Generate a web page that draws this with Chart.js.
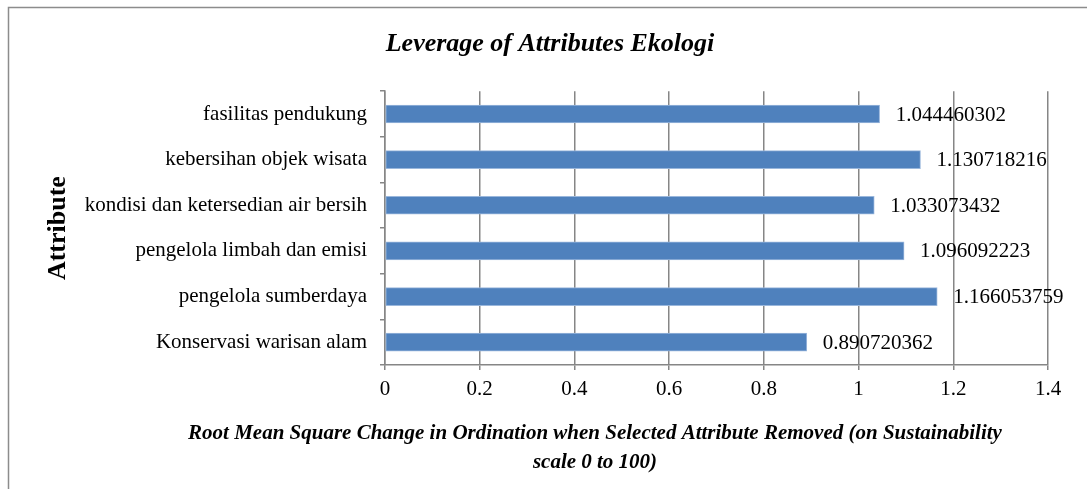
<!DOCTYPE html>
<html>
<head>
<meta charset="utf-8">
<script src="https://cdn.jsdelivr.net/npm/chart.js@4/dist/chart.umd.min.js"></script>
<style>
  html, body { margin: 0; padding: 0; background: #ffffff; }
  #wrap { position: relative; width: 1087px; height: 489px; overflow: hidden; }
</style>
</head>
<body>
<div id="wrap"><canvas id="c" width="1087" height="489"></canvas></div>
<script>
const categories = [
  "fasilitas pendukung",
  "kebersihan objek wisata",
  "kondisi dan ketersedian air bersih",
  "pengelola limbah dan emisi",
  "pengelola sumberdaya",
  "Konservasi warisan alam"
];
const values = [1.044460302, 1.130718216, 1.033073432, 1.096092223, 1.166053759, 0.890720362];
const valueLabels = ["1.044460302", "1.130718216", "1.033073432", "1.096092223", "1.166053759", "0.890720362"];
const xTicks = [0, 0.2, 0.4, 0.6, 0.8, 1, 1.2, 1.4];
const chartTitle = "Leverage of Attributes Ekologi";
const yTitle = "Attribute";
const xTitleLines = [
  "Root Mean Square Change in Ordination when Selected Attribute Removed (on Sustainability",
  "scale 0 to 100)"
];

const SERIF = "'Liberation Serif', 'Times New Roman', serif";
const GRID = '#868686';

const frame = {
  id: 'frame',
  beforeDraw(chart) {
    const ctx = chart.ctx;
    ctx.save();
    ctx.fillStyle = '#ffffff';
    ctx.fillRect(0, 0, chart.width, chart.height);
    ctx.strokeStyle = '#8c8c8c';
    ctx.lineWidth = 1.5;
    ctx.strokeRect(8.5, 7.5, 1400, 800);
    ctx.restore();
  }
};

const valueLabelPlugin = {
  id: 'valueLabels',
  afterDatasetsDraw(chart) {
    const ctx = chart.ctx;
    const meta = chart.getDatasetMeta(0);
    ctx.save();
    ctx.font = "21px " + SERIF;
    ctx.fillStyle = '#000000';
    ctx.textAlign = 'left';
    ctx.textBaseline = 'middle';
    meta.data.forEach((bar, i) => {
      ctx.fillText(valueLabels[i], bar.x + 16, bar.y + 1);
    });
    ctx.restore();
  }
};

const xTitlePlugin = {
  id: 'xTitle',
  afterDraw(chart) {
    const ctx = chart.ctx;
    const a = chart.chartArea;
    ctx.save();
    ctx.font = "italic bold 21px " + SERIF;
    ctx.fillStyle = '#000000';
    ctx.textAlign = 'center';
    ctx.textBaseline = 'alphabetic';
    const cx = a.left + 210;
    ctx.fillText(xTitleLines[0], cx, a.bottom + 74);
    ctx.fillText(xTitleLines[1], cx, a.bottom + 103);
    ctx.restore();
  }
};

new Chart(document.getElementById('c'), {
  type: 'bar',
  data: {
    labels: categories,
    datasets: [{
      data: values,
      backgroundColor: '#4f81bd',
      borderColor: '#9ab7dc',
      borderWidth: 1,
      borderSkipped: false,
      barThickness: 18
    }]
  },
  options: {
    indexAxis: 'y',
    responsive: false,
    animation: false,
    layout: { padding: { left: 52, right: 39, top: 0, bottom: 0 } },
    plugins: {
      legend: { display: false },
      tooltip: { enabled: false },
      title: {
        display: true,
        text: chartTitle,
        color: '#000000',
        font: { family: SERIF, size: 26, weight: 'bold', style: 'italic', lineHeight: 1.2 },
        padding: { top: 29, bottom: 31 }
      }
    },
    scales: {
      x: {
        type: 'linear',
        min: 0,
        max: 1.4,
        afterBuildTicks(scale) { scale.ticks = xTicks.map(v => ({ value: v })); },
        afterFit(scale) { scale.height = 124; },
        grid: { display: true, color: GRID, lineWidth: 1.5, drawOnChartArea: true, drawTicks: true, tickLength: 5, tickColor: GRID },
        border: { display: true, color: GRID, width: 1.5 },
        ticks: {
          color: '#000000',
          padding: 7,
          maxRotation: 0,
          autoSkip: false,
          font: { family: SERIF, size: 21 },
          callback: (v) => String(v)
        }
      },
      y: {
        afterFit(scale) { scale.width = 333; },
        grid: { display: true, color: GRID, lineWidth: 1.5, drawOnChartArea: false, drawTicks: true, tickLength: 5, tickColor: GRID, offset: true },
        border: { display: true, color: GRID, width: 1.5 },
        ticks: { color: '#000000', padding: 13, font: { family: SERIF, size: 21 } },
        title: {
          display: true,
          text: yTitle,
          color: '#000000',
          font: { family: SERIF, size: 26, weight: 'bold', lineHeight: 0.5 },
          padding: { top: 0, bottom: 0 }
        }
      }
    }
  },
  plugins: [frame, valueLabelPlugin, xTitlePlugin]
});
</script>
</body>
</html>
